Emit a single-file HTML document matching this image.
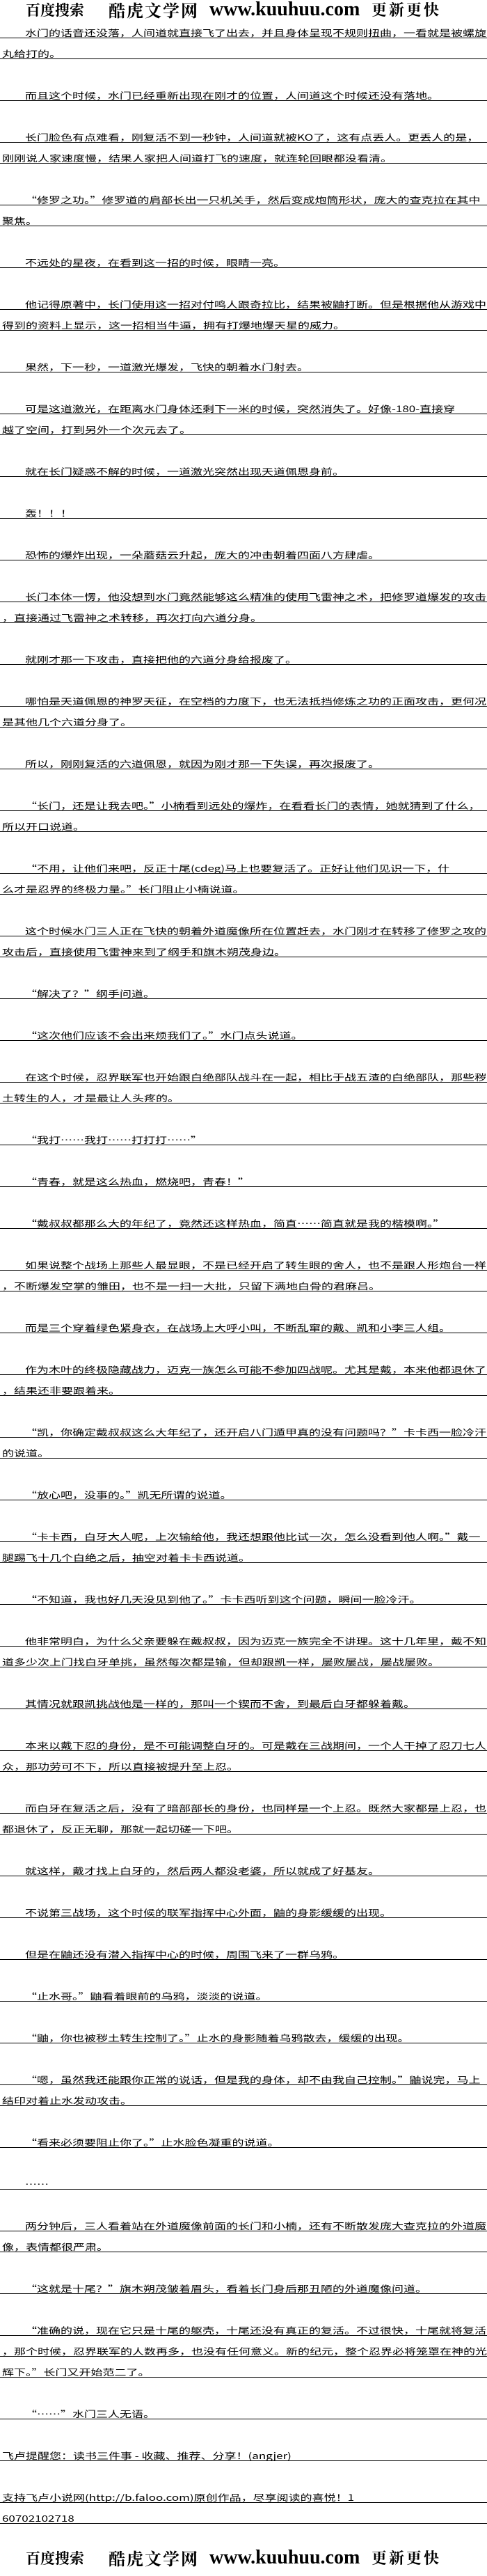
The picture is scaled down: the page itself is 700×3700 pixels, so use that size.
<!DOCTYPE html>
<html><head><meta charset="utf-8">
<style>
html,body{margin:0;padding:0;background:#fff;}
body{width:700px;height:3700px;position:relative;overflow:hidden;font-family:"Noto Sans CJK SC","WenQuanYi Zen Hei",sans-serif;color:#000;}
#lines{position:absolute;top:25px;left:0;width:700px;}
.l,.b{height:30px;position:relative;box-sizing:border-box;}
.l{border-bottom:1px solid #000;}
.l span{position:absolute;bottom:1px;left:3px;transform:scaleX(1.36);transform-origin:left bottom;font-size:12.5px;line-height:13px;white-space:nowrap;}
.l.p span{left:36px;}
.hd{position:absolute;left:0;width:700px;height:30px;}
.hd span{position:absolute;top:0;line-height:28px;font-weight:bold;white-space:nowrap;}
.h1{left:37px;font-size:21px;font-family:"Noto Serif CJK SC",serif;}
.h2{left:156px;font-size:24px;letter-spacing:2px;font-family:"Noto Serif CJK SC",serif;}
.h3{left:301px;font-size:28px;font-family:"Liberation Serif",serif;}
.h4{left:534px;font-size:22px;letter-spacing:3px;font-family:"Noto Serif CJK SC",serif;}
</style></head><body>
<div class="hd" style="top:0px"><span class="h1">百度搜索</span><span class="h2">酷虎文学网</span><span class="h3">www.kuuhuu.com</span><span class="h4">更新更快</span></div>
<div id="lines">
<div class="l p"><span>水门的话音还没落，人间道就直接飞了出去，并且身体呈现不规则扭曲，一看就是被螺旋</span></div>
<div class="l"><span>丸给打的。</span></div>
<div class="b"></div>
<div class="l p"><span>而且这个时候，水门已经重新出现在刚才的位置，人间道这个时候还没有落地。</span></div>
<div class="b"></div>
<div class="l p"><span>长门脸色有点难看，刚复活不到一秒钟，人间道就被KO了，这有点丢人。更丢人的是，</span></div>
<div class="l"><span>刚刚说人家速度慢，结果人家把人间道打飞的速度，就连轮回眼都没看清。</span></div>
<div class="b"></div>
<div class="l p"><span>“修罗之功。”修罗道的肩部长出一只机关手，然后变成炮筒形状，庞大的查克拉在其中</span></div>
<div class="l"><span>聚焦。</span></div>
<div class="b"></div>
<div class="l p"><span>不远处的星夜，在看到这一招的时候，眼睛一亮。</span></div>
<div class="b"></div>
<div class="l p"><span>他记得原著中，长门使用这一招对付鸣人跟奇拉比，结果被鼬打断。但是根据他从游戏中</span></div>
<div class="l"><span>得到的资料上显示，这一招相当牛逼，拥有打爆地爆天星的威力。</span></div>
<div class="b"></div>
<div class="l p"><span>果然，下一秒，一道激光爆发，飞快的朝着水门射去。</span></div>
<div class="b"></div>
<div class="l p"><span>可是这道激光，在距离水门身体还剩下一米的时候，突然消失了。好像-180-直接穿</span></div>
<div class="l"><span>越了空间，打到另外一个次元去了。</span></div>
<div class="b"></div>
<div class="l p"><span>就在长门疑惑不解的时候，一道激光突然出现天道佩恩身前。</span></div>
<div class="b"></div>
<div class="l p"><span>轰！！！</span></div>
<div class="b"></div>
<div class="l p"><span>恐怖的爆炸出现，一朵蘑菇云升起，庞大的冲击朝着四面八方肆虐。</span></div>
<div class="b"></div>
<div class="l p"><span>长门本体一愣，他没想到水门竟然能够这么精准的使用飞雷神之术，把修罗道爆发的攻击</span></div>
<div class="l"><span>，直接通过飞雷神之术转移，再次打向六道分身。</span></div>
<div class="b"></div>
<div class="l p"><span>就刚才那一下攻击，直接把他的六道分身给报废了。</span></div>
<div class="b"></div>
<div class="l p"><span>哪怕是天道佩恩的神罗天征，在空档的力度下，也无法抵挡修炼之功的正面攻击，更何况</span></div>
<div class="l"><span>是其他几个六道分身了。</span></div>
<div class="b"></div>
<div class="l p"><span>所以，刚刚复活的六道佩恩，就因为刚才那一下失误，再次报废了。</span></div>
<div class="b"></div>
<div class="l p"><span>“长门，还是让我去吧。”小楠看到远处的爆炸，在看看长门的表情，她就猜到了什么，</span></div>
<div class="l"><span>所以开口说道。</span></div>
<div class="b"></div>
<div class="l p"><span>“不用，让他们来吧，反正十尾(cdeg)马上也要复活了。正好让他们见识一下，什</span></div>
<div class="l"><span>么才是忍界的终极力量。”长门阻止小楠说道。</span></div>
<div class="b"></div>
<div class="l p"><span>这个时候水门三人正在飞快的朝着外道魔像所在位置赶去，水门刚才在转移了修罗之攻的</span></div>
<div class="l"><span>攻击后，直接使用飞雷神来到了纲手和旗木朔茂身边。</span></div>
<div class="b"></div>
<div class="l p"><span>“解决了？”纲手问道。</span></div>
<div class="b"></div>
<div class="l p"><span>“这次他们应该不会出来烦我们了。”水门点头说道。</span></div>
<div class="b"></div>
<div class="l p"><span>在这个时候，忍界联军也开始跟白绝部队战斗在一起，相比于战五渣的白绝部队，那些秽</span></div>
<div class="l"><span>土转生的人，才是最让人头疼的。</span></div>
<div class="b"></div>
<div class="l p"><span>“我打……我打……打打打……”</span></div>
<div class="b"></div>
<div class="l p"><span>“青春，就是这么热血，燃烧吧，青春！”</span></div>
<div class="b"></div>
<div class="l p"><span>“戴叔叔都那么大的年纪了，竟然还这样热血，简直……简直就是我的楷模啊。”</span></div>
<div class="b"></div>
<div class="l p"><span>如果说整个战场上那些人最显眼，不是已经开启了转生眼的舍人，也不是跟人形炮台一样</span></div>
<div class="l"><span>，不断爆发空掌的雏田，也不是一扫一大批，只留下满地白骨的君麻吕。</span></div>
<div class="b"></div>
<div class="l p"><span>而是三个穿着绿色紧身衣，在战场上大呼小叫，不断乱窜的戴、凯和小李三人组。</span></div>
<div class="b"></div>
<div class="l p"><span>作为木叶的终极隐藏战力，迈克一族怎么可能不参加四战呢。尤其是戴，本来他都退休了</span></div>
<div class="l"><span>，结果还非要跟着来。</span></div>
<div class="b"></div>
<div class="l p"><span>“凯，你确定戴叔叔这么大年纪了，还开启八门遁甲真的没有问题吗？”卡卡西一脸冷汗</span></div>
<div class="l"><span>的说道。</span></div>
<div class="b"></div>
<div class="l p"><span>“放心吧，没事的。”凯无所谓的说道。</span></div>
<div class="b"></div>
<div class="l p"><span>“卡卡西，白牙大人呢，上次输给他，我还想跟他比试一次，怎么没看到他人啊。”戴一</span></div>
<div class="l"><span>腿踢飞十几个白绝之后，抽空对着卡卡西说道。</span></div>
<div class="b"></div>
<div class="l p"><span>“不知道，我也好几天没见到他了。”卡卡西听到这个问题，瞬间一脸冷汗。</span></div>
<div class="b"></div>
<div class="l p"><span>他非常明白，为什么父亲要躲在戴叔叔，因为迈克一族完全不讲理。这十几年里，戴不知</span></div>
<div class="l"><span>道多少次上门找白牙单挑，虽然每次都是输，但却跟凯一样，屡败屡战，屡战屡败。</span></div>
<div class="b"></div>
<div class="l p"><span>其情况就跟凯挑战他是一样的，那叫一个锲而不舍，到最后白牙都躲着戴。</span></div>
<div class="b"></div>
<div class="l p"><span>本来以戴下忍的身份，是不可能调整白牙的。可是戴在三战期间，一个人干掉了忍刀七人</span></div>
<div class="l"><span>众，那功劳可不下，所以直接被提升至上忍。</span></div>
<div class="b"></div>
<div class="l p"><span>而白牙在复活之后，没有了暗部部长的身份，也同样是一个上忍。既然大家都是上忍，也</span></div>
<div class="l"><span>都退休了，反正无聊，那就一起切磋一下吧。</span></div>
<div class="b"></div>
<div class="l p"><span>就这样，戴才找上白牙的，然后两人都没老婆，所以就成了好基友。</span></div>
<div class="b"></div>
<div class="l p"><span>不说第三战场，这个时候的联军指挥中心外面，鼬的身影缓缓的出现。</span></div>
<div class="b"></div>
<div class="l p"><span>但是在鼬还没有潜入指挥中心的时候，周围飞来了一群乌鸦。</span></div>
<div class="b"></div>
<div class="l p"><span>“止水哥。”鼬看着眼前的乌鸦，淡淡的说道。</span></div>
<div class="b"></div>
<div class="l p"><span>“鼬，你也被秽土转生控制了。”止水的身影随着乌鸦散去，缓缓的出现。</span></div>
<div class="b"></div>
<div class="l p"><span>“嗯，虽然我还能跟你正常的说话，但是我的身体，却不由我自己控制。”鼬说完，马上</span></div>
<div class="l"><span>结印对着止水发动攻击。</span></div>
<div class="b"></div>
<div class="l p"><span>“看来必须要阻止你了。”止水脸色凝重的说道。</span></div>
<div class="b"></div>
<div class="l p"><span>……</span></div>
<div class="b"></div>
<div class="l p"><span>两分钟后，三人看着站在外道魔像前面的长门和小楠，还有不断散发庞大查克拉的外道魔</span></div>
<div class="l"><span>像，表情都很严肃。</span></div>
<div class="b"></div>
<div class="l p"><span>“这就是十尾？”旗木朔茂皱着眉头，看着长门身后那丑陋的外道魔像问道。</span></div>
<div class="b"></div>
<div class="l p"><span>“准确的说，现在它只是十尾的躯壳，十尾还没有真正的复活。不过很快，十尾就将复活</span></div>
<div class="l"><span>，那个时候，忍界联军的人数再多，也没有任何意义。新的纪元，整个忍界必将笼罩在神的光</span></div>
<div class="l"><span>辉下。”长门又开始范二了。</span></div>
<div class="b"></div>
<div class="l p"><span>“……”水门三人无语。</span></div>
<div class="b"></div>
<div class="l"><span>飞卢提醒您：读书三件事 - 收藏、推荐、分享！(angjer)</span></div>
<div class="b"></div>
<div class="l"><span>支持飞卢小说网(http://b.faloo.com)原创作品，尽享阅读的喜悦！1</span></div>
<div class="l"><span>60702102718</span></div>
</div>
<div class="hd" style="top:3660px"><span class="h1">百度搜索</span><span class="h2">酷虎文学网</span><span class="h3">www.kuuhuu.com</span><span class="h4">更新更快</span></div>
</body></html>
